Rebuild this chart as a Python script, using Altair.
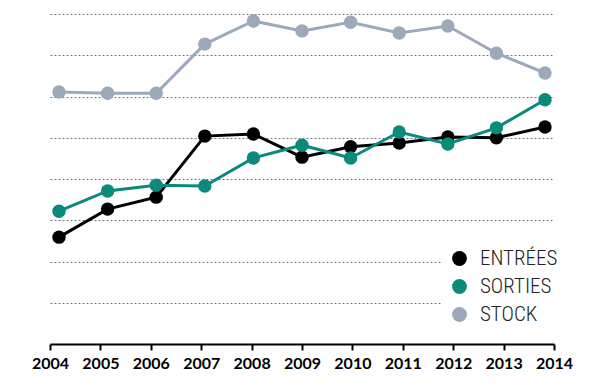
import altair as alt
import pandas as pd

years = list(range(2004, 2015))
entrees = [2.59, 3.27, 3.56, 5.04, 5.09, 4.53, 4.78, 4.87, 5.02, 5.00, 5.26]
sorties = [3.22, 3.71, 3.85, 3.83, 4.51, 4.82, 4.51, 5.14, 4.85, 5.24, 5.92]
stock = [6.11, 6.08, 6.08, 7.27, 7.83, 7.59, 7.80, 7.54, 7.71, 7.05, 6.57]
series_names = ["ENTRÉES", "SORTIES", "STOCK"]
series_colors = ["#000000", "#0b8a7c", "#9ba9bb"]

rows = []
for name, vals in zip(series_names, [entrees, sorties, stock]):
    for yr, v in zip(years, vals):
        rows.append({"year": yr, "series": name, "value": v})
df = pd.DataFrame(rows)

xscale = alt.Scale(domain=[2003.815, 2014.185])
yscale = alt.Scale(domain=[0, 8])
cscale = alt.Scale(domain=series_names, range=series_colors)

x_enc = alt.X("year:Q", scale=xscale, axis=None)
y_enc = alt.Y("value:Q", scale=yscale, axis=alt.Axis(
    values=[1, 2, 3, 4, 5, 6, 7, 8], grid=True, gridDash=[2, 2],
    gridColor="#777777", gridWidth=1, labels=False, ticks=False,
    domain=False, title=None))
c_enc = alt.Color("series:N", scale=cscale, legend=alt.Legend(
    orient="none", legendX=391, legendY=226, title=None,
    symbolType="circle", symbolSize=220, symbolStrokeWidth=0,
    labelFont="Roboto Condensed, DejaVu Sans Condensed, Roboto",
    labelFontSize=21, labelColor="#222222", labelFontWeight=300,
    rowPadding=6, padding=8, fillColor="white", labelOffset=10))

lines = alt.Chart(df).mark_line(strokeWidth=3).encode(
    x=x_enc, y=y_enc, color=c_enc, detail="series:N",
)

points = alt.Chart(df).mark_circle(size=180, opacity=1).encode(
    x=x_enc, y=y_enc, color=c_enc,
)

axis_df = pd.DataFrame({"year": years})
xaxis = alt.Chart(axis_df).mark_point(opacity=0).encode(
    x=alt.X("year:Q", scale=alt.Scale(domain=[2004, 2014]), axis=alt.Axis(
        values=years, format="d", title=None, domainColor="black",
        domainWidth=2, tickColor="black", tickWidth=2, tickSize=6,
        labelFont="Lato", labelFontWeight="bold", labelFontSize=16,
        labelColor="black", labelPadding=5, grid=False,
        labelOverlap=False, labelFlush=False)),
)

chart = alt.layer(lines, points, xaxis).resolve_scale(x="independent").properties(
    width=504, height=330,
    autosize=alt.AutoSizeParams(type="none"),
    padding={"left": 42, "top": 6, "right": 37, "bottom": 40},
).configure_view(stroke=None)

chart.save("out.html", embed_options={"renderer": "svg", "actions": False})
